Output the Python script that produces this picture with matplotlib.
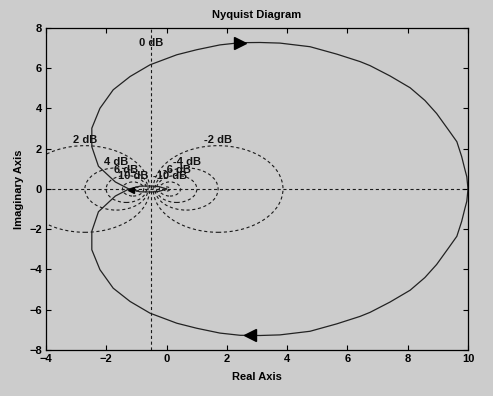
import numpy as np
import matplotlib
matplotlib.use('Agg')
import matplotlib.pyplot as plt
from matplotlib.patches import Circle

# Nyquist curve, positive-frequency branch
re_pts = [10.0, 9.96, 9.90, 9.79, 9.63, 9.35, 8.96, 8.57, 8.08, 7.41, 6.75, 6.42,
          5.65, 4.76, 3.76, 3.10, 2.44, 1.77, 1.00, 0.34, -0.55, -1.21, -1.77,
          -2.21, -2.48, -2.48, -2.26, -1.70, -1.25, -0.88, -0.50, -0.26, -0.10, 0.0]
im_pts = [0.0, -0.61, -0.95, -1.61, -2.35, -2.94, -3.75, -4.40, -5.03, -5.62, -6.13, -6.33,
          -6.70, -7.07, -7.25, -7.28, -7.27, -7.16, -6.92, -6.67, -6.17, -5.59, -4.93,
          -4.01, -3.02, -2.10, -1.13, -0.35, 0.0, 0.14, 0.15, 0.12, 0.05, 0.0]

# M-circle grid levels (dB)
db_levels = [-20, -10, -6, -4, -2, 2, 4, 6, 10, 20]
db_labeled = [-10, -6, -4, -2, 2, 4, 6, 10]

xticks = [-4, -2, 0, 2, 4, 6, 8, 10]
yticks = [-8, -6, -4, -2, 0, 2, 4, 6, 8]

plt.rcParams['font.family'] = ['Liberation Sans', 'DejaVu Sans']
plt.rcParams['font.size'] = 8
plt.rcParams['font.weight'] = 'bold'

bg = '#cccccc'
fig = plt.figure(figsize=(4.93, 3.96), dpi=100, facecolor=bg)
ax = fig.add_axes([0.0933, 0.1162, 0.856, 0.8131], facecolor=bg)

dash = (0, (2.8, 2.4))
gcol = '#1a1a1a'

# M-circles
for db in db_levels:
    m = 10 ** (db / 20)
    c = -m**2 / (m**2 - 1)
    r = abs(m / (m**2 - 1))
    ax.add_patch(Circle((c, 0), r, fill=False, ec=gcol, lw=0.8, ls=dash, zorder=1))
    if db in db_labeled:
        ax.text(c, r + 0.05, f'{db} dB', ha='center', va='bottom',
                fontsize=8, fontweight='bold', color='#111111', zorder=3)

# 0 dB line and real axis
ax.axvline(-0.5, color=gcol, lw=0.8, ls=dash, zorder=1)
ax.axhline(0, color=gcol, lw=0.8, ls=dash, zorder=1)
ax.text(-0.5, 7.0, '0 dB', ha='center', va='bottom', fontsize=8,
        fontweight='bold', color='#111111', zorder=3)

# Nyquist branches
re = np.array(re_pts)
im = np.array(im_pts)
ax.plot(re, im, color='#222222', lw=0.9, zorder=2)
ax.plot(re, -im, color='#222222', lw=0.9, zorder=2)

# direction arrows placed along curve segments
def along(i, f, sign):
    x = re[i] + f * (re[i + 1] - re[i])
    y = im[i] + f * (im[i + 1] - im[i])
    return x, sign * y

x1, y1 = along(15, 1.0, -1)
ax.plot(x1, y1, marker='>', ms=8, color='black', zorder=4)
x2, y2 = along(15, 0.5, 1)
ax.plot(x2, y2, marker='<', ms=8, color='black', zorder=4)
x3, y3 = along(28, 0.2, -1)
ax.plot(x3, y3, marker='<', ms=5, color='black', zorder=4)

ax.set_xlim(-4, 10)
ax.set_ylim(-8, 8)
ax.set_xticks(xticks)
ax.set_yticks(yticks)
ax.tick_params(direction='in', length=3.5, width=0.8, top=True, right=True,
               labelsize=8, pad=3)
for s in ax.spines.values():
    s.set_linewidth(0.9)

ax.set_title('Nyquist Diagram', fontsize=8, fontweight='bold', pad=7)
ax.set_xlabel('Real Axis', fontsize=8, fontweight='bold', labelpad=6)
ax.set_ylabel('Imaginary Axis', fontsize=8, fontweight='bold', labelpad=4)

fig.savefig('out.png', dpi=100, facecolor=bg)
